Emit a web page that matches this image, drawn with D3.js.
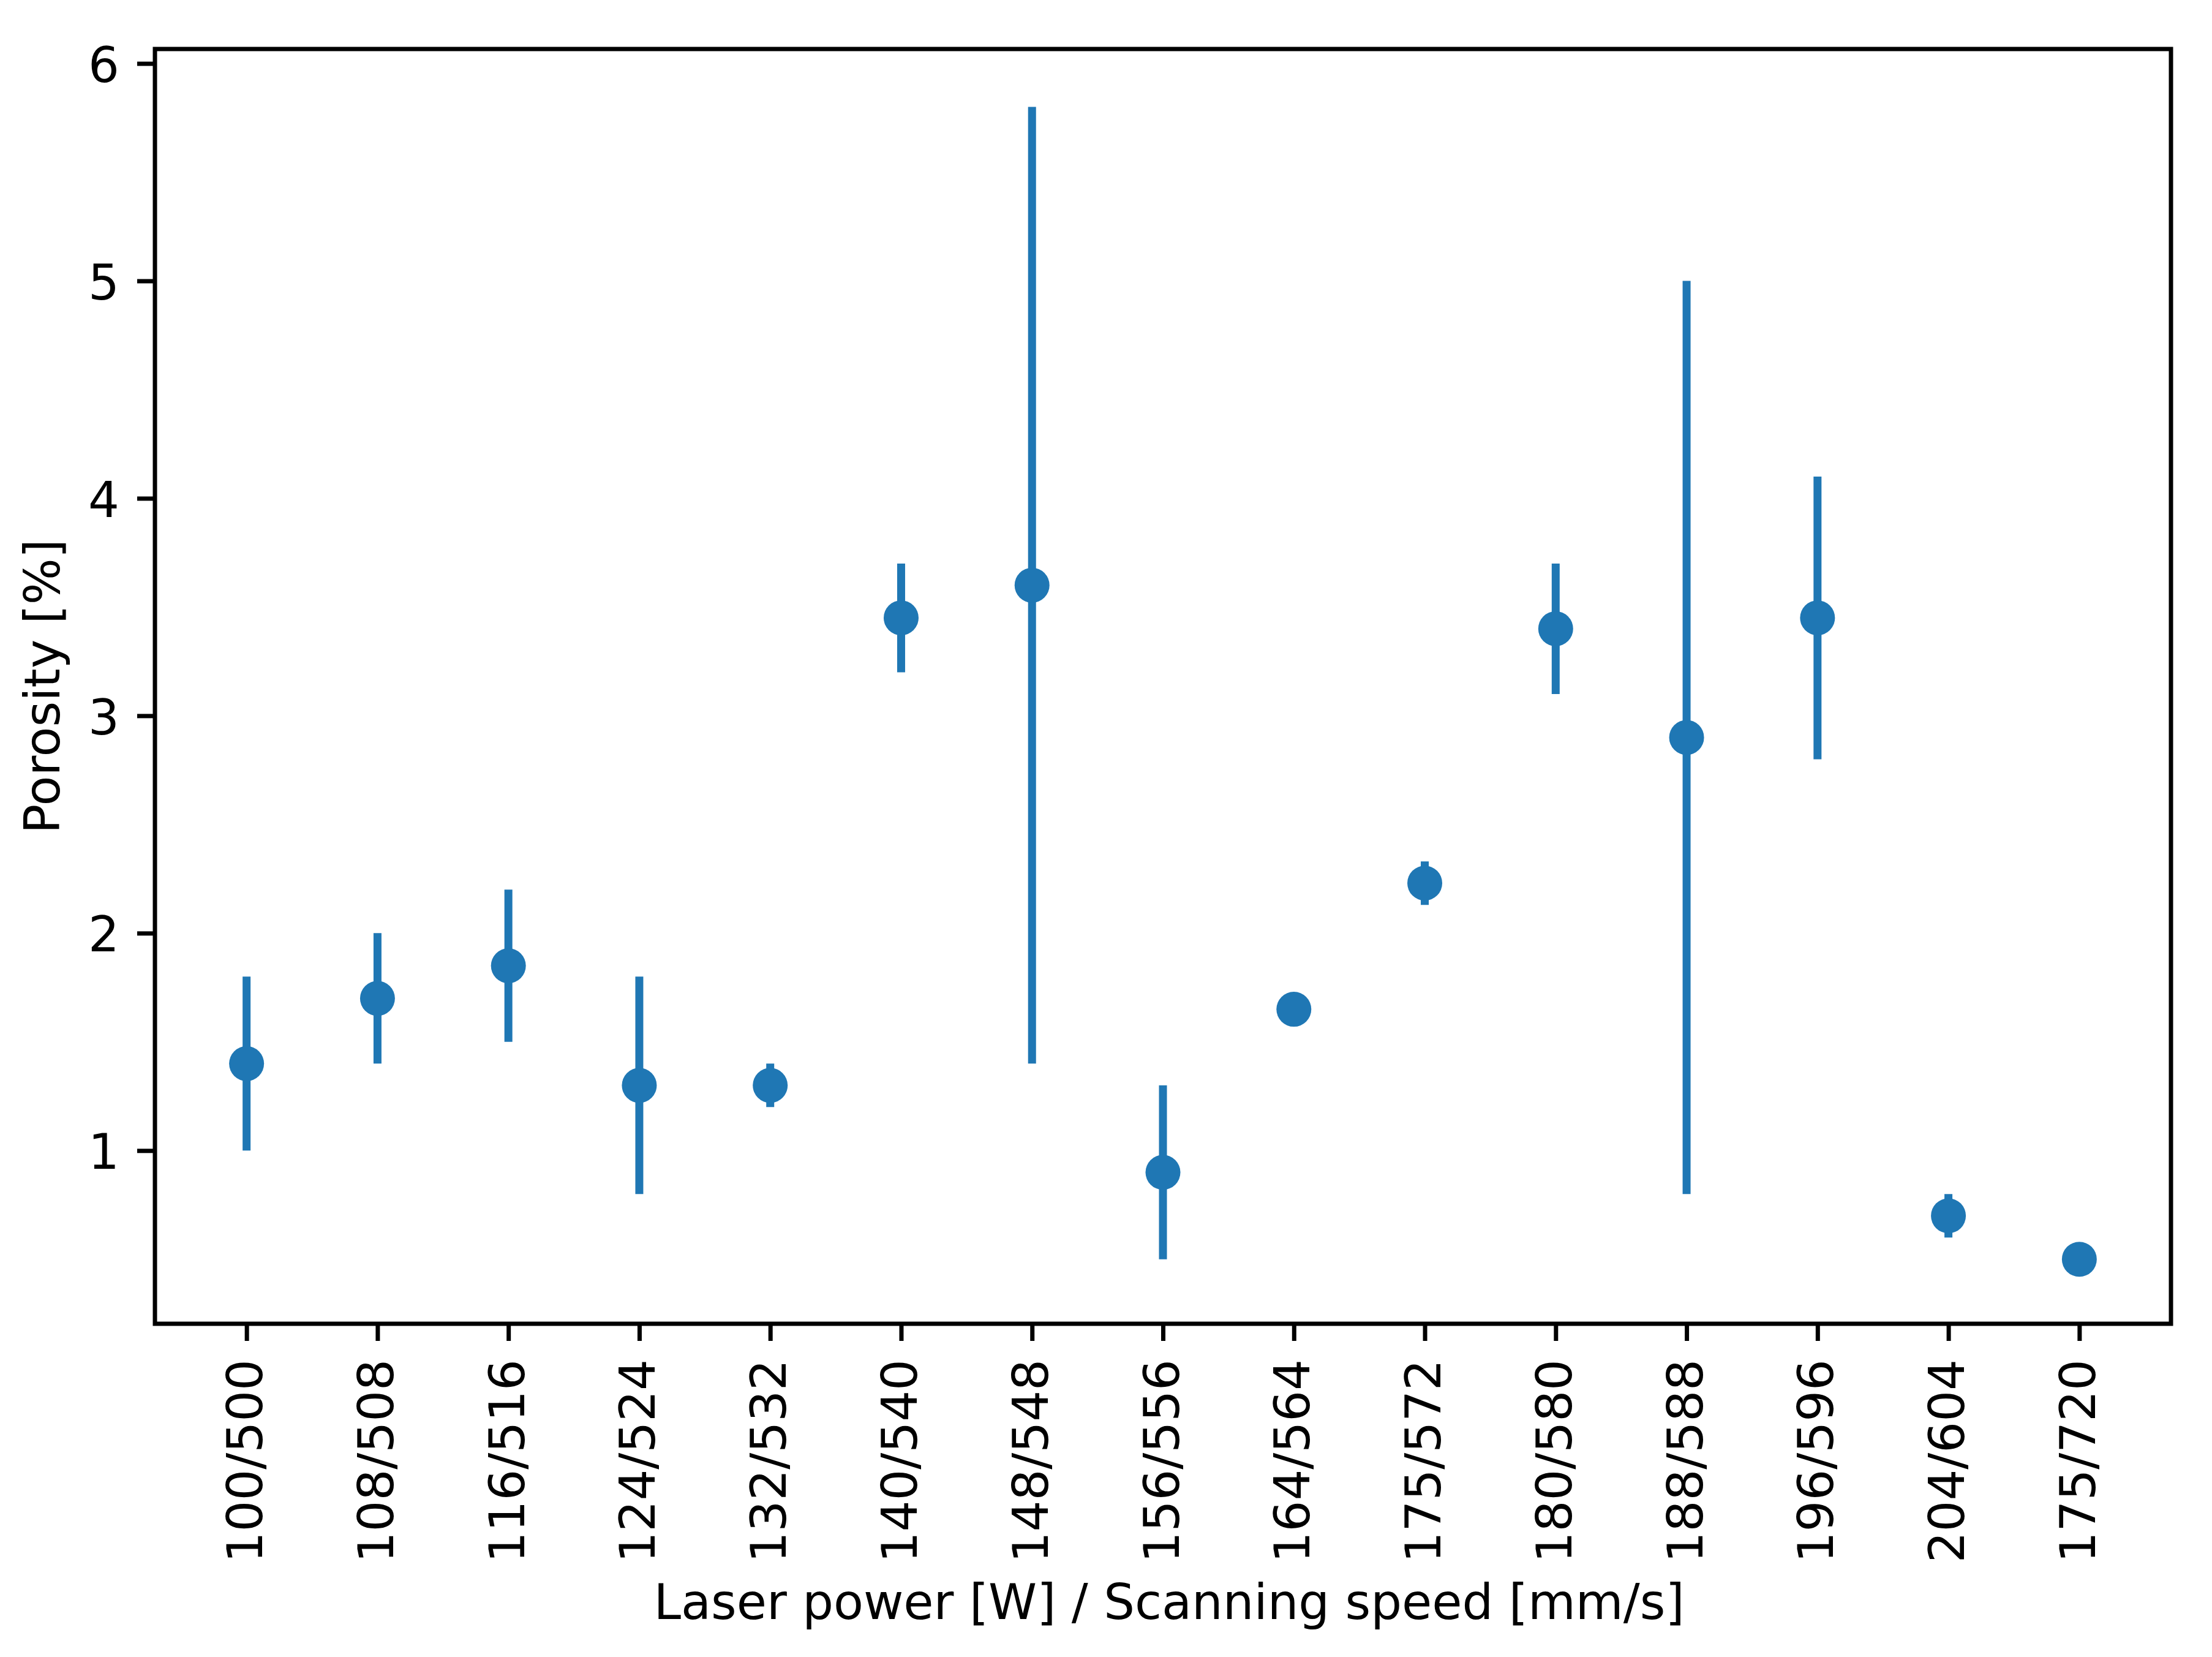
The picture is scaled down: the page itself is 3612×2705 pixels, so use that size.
<!DOCTYPE html>
<html>
<head>
<meta charset="utf-8">
<script src="https://cdn.jsdelivr.net/npm/d3@7"></script>
<style>
  body { margin: 0; background: #fff; }
  svg { display: block; }
  text { font-family: "DejaVu Sans", sans-serif; }
</style>
</head>
<body>
<svg id="chart"></svg>
<script>
// laser power / scanning speed settings
var categories = ['100/500', '108/508', '116/516', '124/524', '132/532', '140/540', '148/548',
                  '156/556', '164/564', '175/572', '180/580', '188/588', '196/596', '204/604', '175/720'];
// mean porosity [%]
var porosity = [1.4, 1.7, 1.85, 1.3, 1.3, 3.45, 3.6, 0.9, 1.65, 2.23, 3.4, 2.9, 3.45, 0.7, 0.5];
// standard deviation
var stdDev = [0.4, 0.3, 0.35, 0.5, 0.1, 0.25, 2.2, 0.4, 0.05, 0.1, 0.3, 2.1, 0.65, 0.1, 0.03];
var yTicks = [1, 2, 3, 4, 5, 6];

var W = 3612, H = 2705;
var mLeft = 253, mRight = 3545, mTop = 80, mBottom = 2161;
var blue = '#1f77b4';
var fontSize = 80;

var svg = d3.select('#chart').attr('width', W).attr('height', H);
svg.append('rect').attr('width', W).attr('height', H).attr('fill', '#fff');

var x = d3.scalePoint()
    .domain(categories)
    .range([mLeft, mRight])
    .padding(0.7);

// matplotlib style 5% margins around data incl. error bars
var lo = d3.min(porosity, function(d, i) { return d - stdDev[i]; });
var hi = d3.max(porosity, function(d, i) { return d + stdDev[i]; });
var pad = (hi - lo) * 0.05;
var y = d3.scaleLinear()
    .domain([lo - pad, hi + pad])
    .range([mBottom, mTop]);

// error bars
svg.append('g')
    .selectAll('line')
    .data(porosity)
    .enter()
    .append('line')
    .attr('x1', function(d, i) { return x(categories[i]); })
    .attr('x2', function(d, i) { return x(categories[i]); })
    .attr('y1', function(d, i) { return y(d - stdDev[i]); })
    .attr('y2', function(d, i) { return y(d + stdDev[i]); })
    .attr('stroke', blue)
    .attr('stroke-width', 13);

// markers
svg.append('g')
    .selectAll('circle')
    .data(porosity)
    .enter()
    .append('circle')
    .attr('cx', function(d, i) { return x(categories[i]); })
    .attr('cy', function(d) { return y(d); })
    .attr('r', 28.5)
    .attr('fill', blue);

// axes
var yAxis = svg.append('g')
    .attr('transform', 'translate(' + mLeft + ',0)')
    .call(d3.axisLeft(y).tickValues(yTicks).tickFormat(d3.format('d')).tickSize(29).tickSizeOuter(0).tickPadding(29));

var xAxis = svg.append('g')
    .attr('transform', 'translate(0,' + mBottom + ')')
    .call(d3.axisBottom(x).tickSize(28).tickSizeOuter(0));

svg.selectAll('.domain').remove();
svg.selectAll('.tick line').attr('stroke', '#000').attr('stroke-width', 7);

yAxis.selectAll('text')
    .attr('font-size', fontSize)
    .attr('font-family', 'DejaVu Sans')
    .attr('fill', '#000')
    .attr('dy', '0.37em');

xAxis.selectAll('text')
    .attr('font-size', fontSize)
    .attr('font-family', 'DejaVu Sans')
    .attr('fill', '#000')
    .attr('text-anchor', 'end')
    .attr('x', 0)
    .attr('y', 0)
    .attr('dy', 0)
    .attr('transform', 'translate(25,58) rotate(-90)');

// frame
svg.append('rect')
    .attr('x', mLeft)
    .attr('y', mTop)
    .attr('width', mRight - mLeft)
    .attr('height', mBottom - mTop)
    .attr('fill', 'none')
    .attr('stroke', '#000')
    .attr('stroke-width', 7);

// axis titles
svg.append('text')
    .attr('x', (mLeft + mRight) / 2 + 10)
    .attr('y', 2643)
    .attr('text-anchor', 'middle')
    .attr('font-size', fontSize)
    .text('Laser power [W] / Scanning speed [mm/s]');

svg.append('text')
    .attr('transform', 'translate(97,' + ((mTop + mBottom) / 2) + ') rotate(-90)')
    .attr('text-anchor', 'middle')
    .attr('font-size', fontSize)
    .text('Porosity [%]');
</script>
</body>
</html>
